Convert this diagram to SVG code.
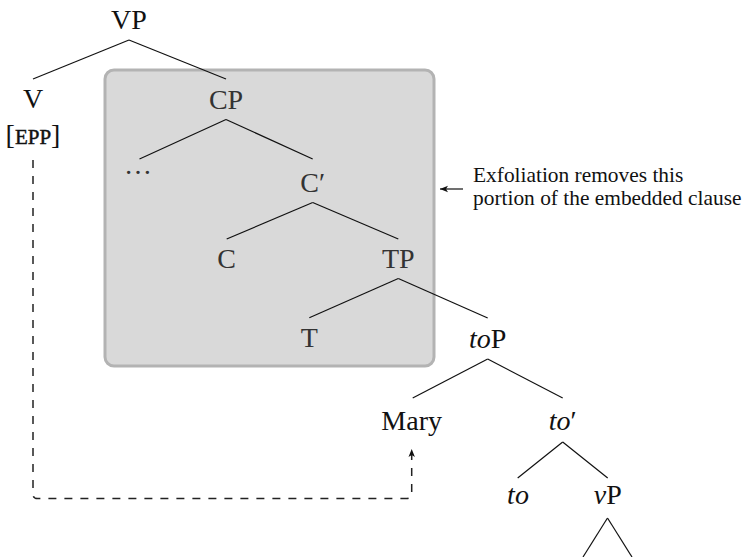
<svg xmlns="http://www.w3.org/2000/svg" width="745" height="557" viewBox="0 0 745 557">
<style>
.lbl{font-family:"Liberation Serif","Times New Roman",serif;font-size:28px;fill:#111;text-anchor:middle}
.in{fill:#333}
.it{font-style:italic}
.sc{font-size:21px;stroke:#111;stroke-width:0.45}
.note{font-family:"Liberation Serif","Times New Roman",serif;font-size:21.4px;fill:#111}
.edge{stroke:#111;stroke-width:1.2;fill:none}
.dash{stroke:#222;stroke-width:1.5;fill:none;stroke-dasharray:8 8}
</style>
<defs>
<marker id="ah" viewBox="0 0 10 10" refX="10" refY="5" markerWidth="8" markerHeight="8" markerUnits="userSpaceOnUse" orient="auto">
<path d="M0,1 L10,5 L0,9 L2.5,5 Z" fill="#111"/>
</marker>
</defs>
<g id="exfoliation-box">
<rect x="105" y="70" width="329" height="296" rx="9" ry="9" fill="#d9d9d9" stroke="#b3b3b3" stroke-width="3"/>
</g>
<g id="connectors">
<line class="edge" x1="129" y1="40" x2="33" y2="79"/>
<line class="edge" x1="129" y1="40" x2="226" y2="79"/>
<line class="edge" x1="226" y1="119.5" x2="139.5" y2="159"/>
<line class="edge" x1="226" y1="119.5" x2="312.7" y2="159"/>
<line class="edge" x1="312.7" y1="202.5" x2="226.7" y2="239"/>
<line class="edge" x1="312.7" y1="202.5" x2="398.3" y2="239"/>
<line class="edge" x1="398.3" y1="278.5" x2="309.3" y2="317.7"/>
<line class="edge" x1="398.3" y1="278.5" x2="487.7" y2="318"/>
<line class="edge" x1="487.7" y1="359" x2="412.7" y2="398"/>
<line class="edge" x1="487.7" y1="359" x2="562.7" y2="398"/>
<line class="edge" x1="562.7" y1="442" x2="517.7" y2="478"/>
<line class="edge" x1="562.7" y1="442" x2="607.7" y2="478"/>
<line class="edge" x1="607.5" y1="518" x2="583" y2="557"/>
<line class="edge" x1="607.5" y1="518" x2="632" y2="557"/>
<path class="dash" d="M33,160 L33,494 Q33,498.5 37.5,498.5 L407,498.5 Q411.7,498.5 411.7,494 L411.7,449" marker-end="url(#ah)"/>
<line x1="463" y1="189" x2="440" y2="189" stroke="#111" stroke-width="1.2" marker-end="url(#ah)"/>
</g>
<g id="node-VP"><text class="lbl" x="129" y="29">VP</text></g>
<g id="node-V"><text class="lbl" x="33" y="108">V</text>
<text class="lbl" x="33" y="144">[<tspan class="sc">EPP</tspan>]</text></g>
<g id="node-CP"><text class="lbl in" x="226" y="109">CP</text></g>
<g id="node-dots"><text class="lbl in" x="138" y="174">…</text></g>
<g id="node-Cbar"><text class="lbl in" x="312.7" y="192">C′</text></g>
<g id="node-C"><text class="lbl in" x="226.7" y="268">C</text></g>
<g id="node-TP"><text class="lbl in" x="398.3" y="268">TP</text></g>
<g id="node-T"><text class="lbl in" x="309.3" y="347">T</text></g>
<g id="node-toP"><text class="lbl" x="487.7" y="348"><tspan class="it">to</tspan>P</text></g>
<g id="node-Mary"><text class="lbl" x="411.7" y="430">Mary</text></g>
<g id="node-tobar"><text class="lbl" x="562.7" y="430"><tspan class="it">to</tspan>′</text></g>
<g id="node-to"><text class="lbl it" x="518" y="504">to</text></g>
<g id="node-vP"><text class="lbl" x="607.7" y="504"><tspan class="it">v</tspan>P</text></g>
<g id="annotation">
<text class="note" x="473" y="182">Exfoliation removes this</text>
<text class="note" x="473" y="205">portion of the embedded clause</text>
</g>
</svg>
